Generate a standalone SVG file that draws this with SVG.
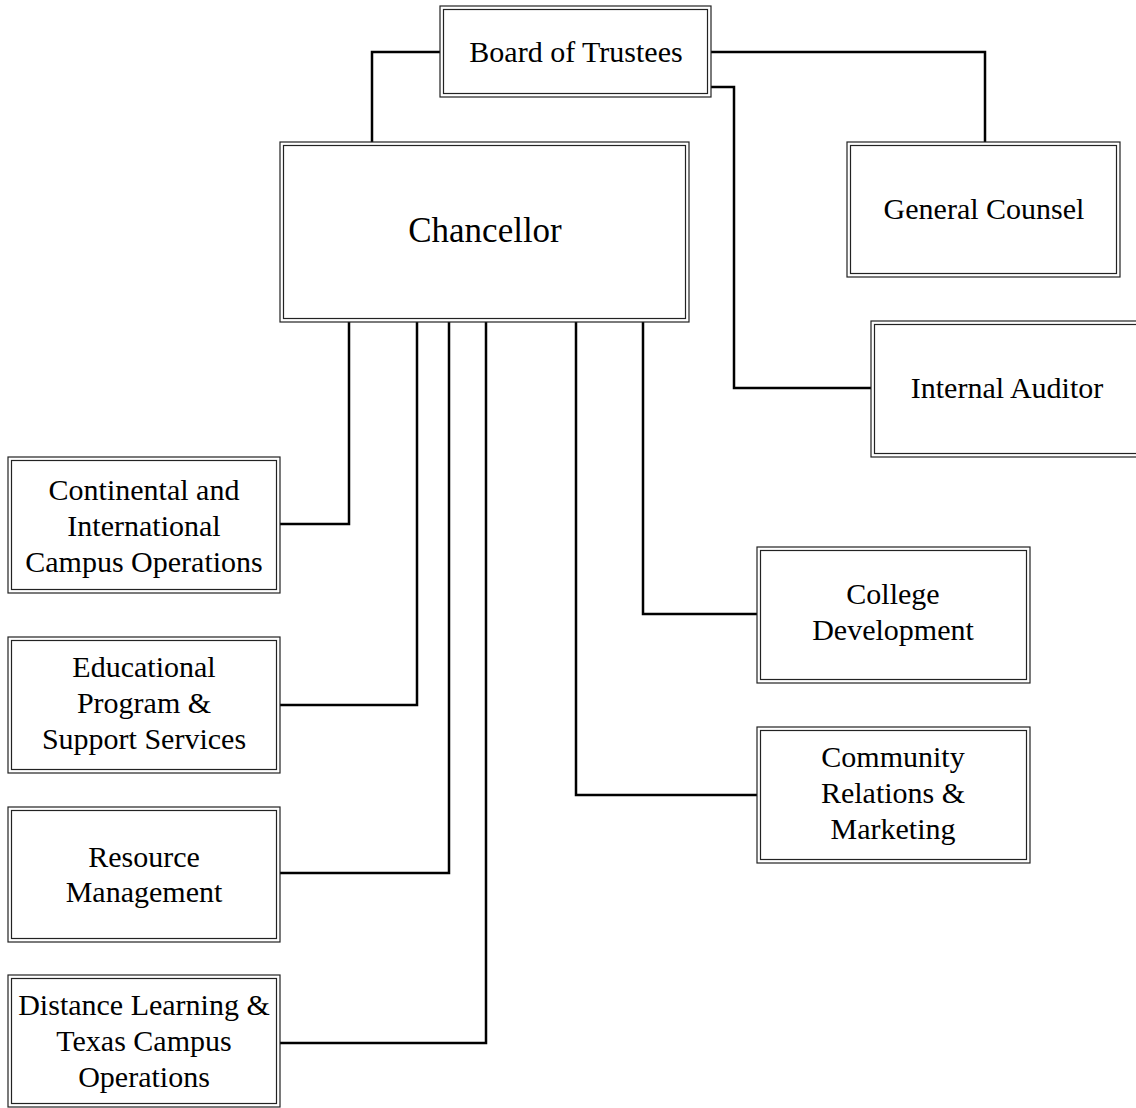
<svg xmlns="http://www.w3.org/2000/svg" width="1136" height="1108" viewBox="0 0 1136 1108">
<style>
.o{fill:#fff;stroke:#222;stroke-width:1.2}
.i{fill:none;stroke:#222;stroke-width:1.2}
.t{font-family:"Liberation Serif","Times New Roman",serif;font-size:30px;fill:#000;text-anchor:middle}
.big{font-size:35px}
.c{fill:none;stroke:#000;stroke-width:2.5}
</style>
<rect width="1136" height="1108" fill="#fff"/>
<g id="connectors">
<path class="c" d="M440,52 H372 V142"/>
<path class="c" d="M711,52 H985 V142"/>
<path class="c" d="M708,87 H734 V388 H871"/>
<path class="c" d="M349,322 V524 H280"/>
<path class="c" d="M417,322 V705 H280"/>
<path class="c" d="M449,322 V873 H280"/>
<path class="c" d="M486,322 V1043 H280"/>
<path class="c" d="M576,322 V795 H757"/>
<path class="c" d="M643,322 V614 H757"/>
</g>
<g id="board">
<rect class="o" x="440" y="6" width="271" height="91"/>
<rect class="i" x="443.5" y="9.5" width="264" height="84"/>
<text class="t" x="576" y="62">Board of Trustees</text>
</g>
<g id="chancellor">
<rect class="o" x="280" y="142" width="409" height="180"/>
<rect class="i" x="283.5" y="145.5" width="402" height="173"/>
<text class="t big" x="485" y="242">Chancellor</text>
</g>
<g id="general-counsel">
<rect class="o" x="847" y="142" width="273" height="135"/>
<rect class="i" x="850.5" y="145.5" width="266" height="128"/>
<text class="t" x="984" y="219">General Counsel</text>
</g>
<g id="internal-auditor">
<rect class="o" x="871" y="321" width="272" height="136"/>
<rect class="i" x="874.5" y="324.5" width="265" height="129"/>
<text class="t" x="1007" y="398">Internal Auditor</text>
</g>
<g id="continental">
<rect class="o" x="8" y="457" width="272" height="136"/>
<rect class="i" x="11.5" y="460.5" width="265" height="129"/>
<text class="t" x="144" y="500">Continental and</text>
<text class="t" x="144" y="536">International</text>
<text class="t" x="144" y="572">Campus Operations</text>
</g>
<g id="educational">
<rect class="o" x="8" y="637" width="272" height="136"/>
<rect class="i" x="11.5" y="640.5" width="265" height="129"/>
<text class="t" x="144" y="677">Educational</text>
<text class="t" x="144" y="713">Program &amp;</text>
<text class="t" x="144" y="749">Support Services</text>
</g>
<g id="resource">
<rect class="o" x="8" y="807" width="272" height="135"/>
<rect class="i" x="11.5" y="810.5" width="265" height="128"/>
<text class="t" x="144" y="867">Resource</text>
<text class="t" x="144" y="902">Management</text>
</g>
<g id="distance">
<rect class="o" x="8" y="975" width="272" height="132"/>
<rect class="i" x="11.5" y="978.5" width="265" height="125"/>
<text class="t" x="144" y="1015">Distance Learning &amp;</text>
<text class="t" x="144" y="1051">Texas Campus</text>
<text class="t" x="144" y="1087">Operations</text>
</g>
<g id="college-development">
<rect class="o" x="757" y="547" width="273" height="136"/>
<rect class="i" x="760.5" y="550.5" width="266" height="129"/>
<text class="t" x="893" y="604">College</text>
<text class="t" x="893" y="640">Development</text>
</g>
<g id="community">
<rect class="o" x="757" y="727" width="273" height="136"/>
<rect class="i" x="760.5" y="730.5" width="266" height="129"/>
<text class="t" x="893" y="767">Community</text>
<text class="t" x="893" y="803">Relations &amp;</text>
<text class="t" x="893" y="839">Marketing</text>
</g>
</svg>
